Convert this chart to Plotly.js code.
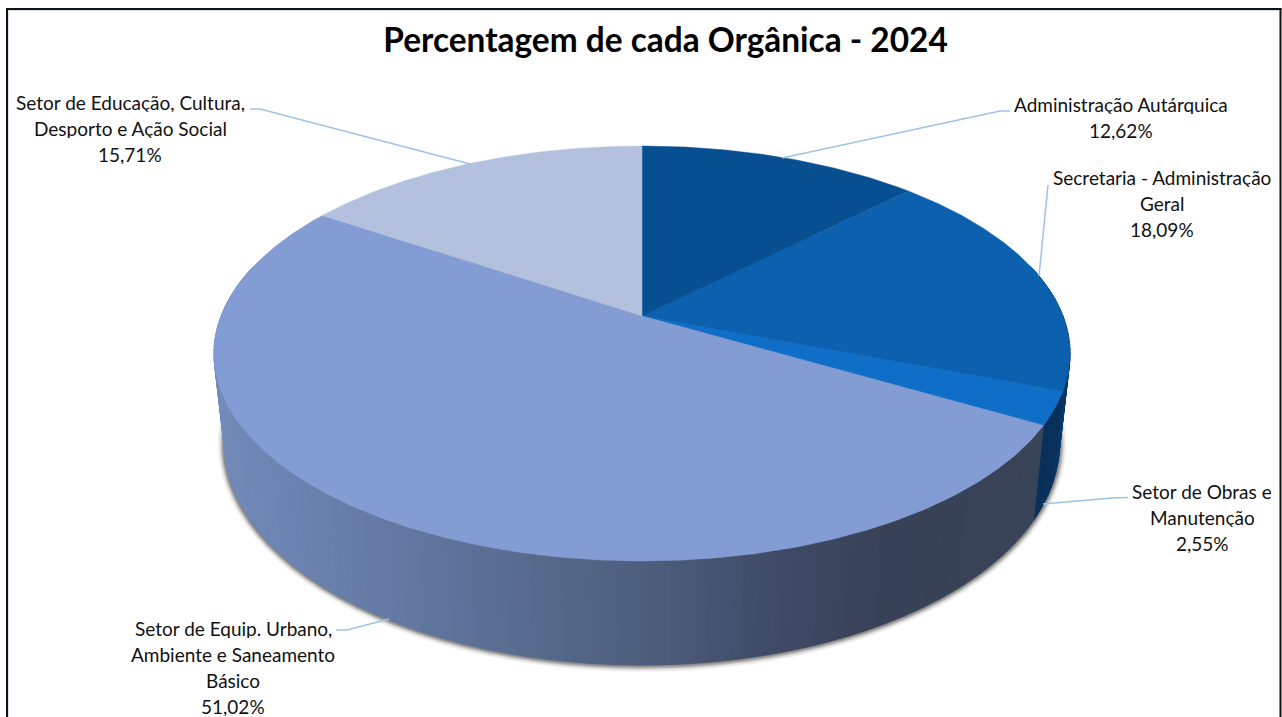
<!DOCTYPE html>
<html><head><meta charset="utf-8">
<script src="https://cdn.plot.ly/plotly-3.0.1.min.js"></script>
<style>html,body{margin:0;padding:0;background:#fff;overflow:hidden}#c{width:1282px;height:717px}</style>
</head><body><div id="c"></div>
<script>
// ---- data ----
const chartTitle = "Percentagem de cada Orgânica - 2024";
const categories = ["Administração Autárquica","Secretaria - Administração Geral","Setor de Obras e Manutenção","Setor de Equip. Urbano, Ambiente e Saneamento Básico","Setor de Educação, Cultura, Desporto e Ação Social"];
const values = [12.62,18.09,2.55,51.02,15.71];
const labelLines = [["Administração Autárquica"],["Secretaria - Administração","Geral"],["Setor de Obras e","Manutenção"],["Setor de Equip. Urbano,","Ambiente e Saneamento","Básico"],["Setor de Educação, Cultura,","Desporto e Ação Social"]];
// ---- style ----
const topColors = ["#084f91","#0c60ad","#0f6fc8","#849cd4","#b3c0de"];
const sideColors = ["#063a6c","#07376a","#07305a",null,"#8ea0c6"];
const sideStops = [[225,[114,139,186]],[390,[100,122,165]],[500,[90,110,146]],[642,[78,94,125]],[780,[62,74,101]],[880,[55,65,87]],[1040,[56,68,88]]];
const labelPos = [[1121,104],[1162,177],[1202,491],[233,628],[130,102]];
const lineGap = 26;
const leaders = [[[1010,1000,782],[111,111,158]],[[1048,1039],[185,276]],[[1128,1112,1043],[497.5,498,504]],[[336,347,389],[630,630,619]],[[250,260,470],[109,109,164]]];

// ---- perspective projection of the disc ----
const CX=642,CY=316,A=200.7,B=421,P=0.1807,KX=0.975,KY=1.066,OY=67;
function topPt(a){const r=a*Math.PI/180,u=Math.sin(r),v=Math.cos(r),d=1+P*v;return [CX+B*u/d,CY-A*v/d];}
function botPt(a){const p=topPt(a);return [CX+KX*(p[0]-CX),KY*p[1]+OY];}
function sideColor(x){let s=sideStops;if(x<=s[0][0])return `rgb(${s[0][1]})`;
  for(let i=1;i<s.length;i++){if(x<=s[i][0]){const t=(x-s[i-1][0])/(s[i][0]-s[i-1][0]);
    return 'rgb('+s[i][1].map((c,j)=>Math.round(s[i-1][1][j]+(c-s[i-1][1][j])*t)).join(',')+')';}}
  return `rgb(${s[s.length-1][1]})`;}
const total=values.reduce((a,b)=>a+b,0);
let cum=0;const slices=values.map(v=>{const s=cum/total*360;cum+=v;return [s,cum/total*360];});

const traces=[];
function poly(xs,ys,color,lw,name){traces.push({type:'scatter',mode:'lines',x:xs,y:ys,fill:'toself',fillcolor:color,line:{color:lw?color:'rgba(0,0,0,0)',width:lw||0},hoverinfo:name?'text':'skip',text:name||'',showlegend:false});}

// shadow: stacked soft rings around the base
const ecx=CX,ecy=KY*353.5+OY,erx=418,ery=221;
[7,6,5,4,3,2,1,0].forEach(d=>{const xs=[],ys=[];
  for(let a=0;a<=360;a+=3){const p=botPt(a);xs.push(ecx+(p[0]-ecx)*(erx+d)/erx);ys.push(ecy+(p[1]-ecy)*(ery+d)/ery);}
  poly(xs,ys,'rgba(40,40,40,'+(d>4?0.05:0.17)+')');});

// wall strips
const wallFrom=75,wallTo=285;
slices.forEach((s,i)=>{
  const a0=Math.max(s[0],wallFrom),a1=Math.min(s[1],wallTo);
  for(let a=a0;a<a1;a+=1){const b=Math.min(a+1,a1);
    const p=topPt(a),q=topPt(b),r=botPt(b),t=botPt(a);
    const c=sideColors[i]||sideColor((t[0]+r[0])/2);
    poly([p[0],q[0],r[0],t[0],p[0]],[p[1],q[1],r[1],t[1],p[1]],c,0.8);}
});

// top face
slices.forEach((s,i)=>{const xs=[CX],ys=[CY];
  for(let a=s[0];a<s[1];a+=0.5){const p=topPt(a);xs.push(p[0]);ys.push(p[1]);}
  const p=topPt(s[1]);xs.push(p[0],CX);ys.push(p[1],CY);
  poly(xs,ys,topColors[i],0.5,categories[i]+': '+values[i].toFixed(2).replace('.',',')+'%');});

// leader lines
leaders.forEach(l=>traces.push({type:'scatter',mode:'lines',x:l[0],y:l[1],line:{color:'#9dc3e6',width:1.5},hoverinfo:'skip',showlegend:false}));

const annotations=[];
categories.forEach((c,i)=>{labelLines[i].concat([values[i].toFixed(2).replace('.',',')+'%']).forEach((t,k)=>{
  annotations.push({xref:'x',yref:'y',x:labelPos[i][0],y:labelPos[i][1]+k*lineGap,xanchor:'center',yanchor:'middle',align:'center',valign:'middle',height:20,borderpad:0,showarrow:false,text:t,
  font:{family:'Lato, Carlito, sans-serif',size:19,color:'#111'}});});});

const shapes=[
 {type:'line',xref:'x',yref:'y',x0:8.5,x1:8.5,y0:10,y1:717,line:{color:'#d5e3f1',width:1}},
 {type:'line',xref:'x',yref:'y',x0:8,x1:1280,y0:10.5,y1:10.5,line:{color:'#d5e3f1',width:1}},
 {type:'line',xref:'x',yref:'y',x0:7,x1:7,y0:8,y1:717,line:{color:'#111',width:2}},
 {type:'line',xref:'x',yref:'y',x0:6,x1:1281.5,y0:9,y1:9,line:{color:'#111',width:2}},
 {type:'line',xref:'x',yref:'y',x0:1280.5,x1:1280.5,y0:8,y1:717,line:{color:'#111',width:2}}
];

Plotly.newPlot('c',traces,{
  width:1282,height:717,margin:{l:0,r:0,t:0,b:0},paper_bgcolor:'#fff',plot_bgcolor:'#fff',showlegend:false,
  title:{text:'<b>'+chartTitle+'</b>',x:665.5/1282,xanchor:'center',y:1-40/717,yanchor:'middle',automargin:false,font:{family:'Lato, Carlito, sans-serif',size:33.4,color:'#000'}},
  xaxis:{range:[0,1282],visible:false,fixedrange:true},
  yaxis:{range:[717,0],visible:false,fixedrange:true},
  annotations,shapes
},{displayModeBar:false,staticPlot:false});
</script></body></html>
